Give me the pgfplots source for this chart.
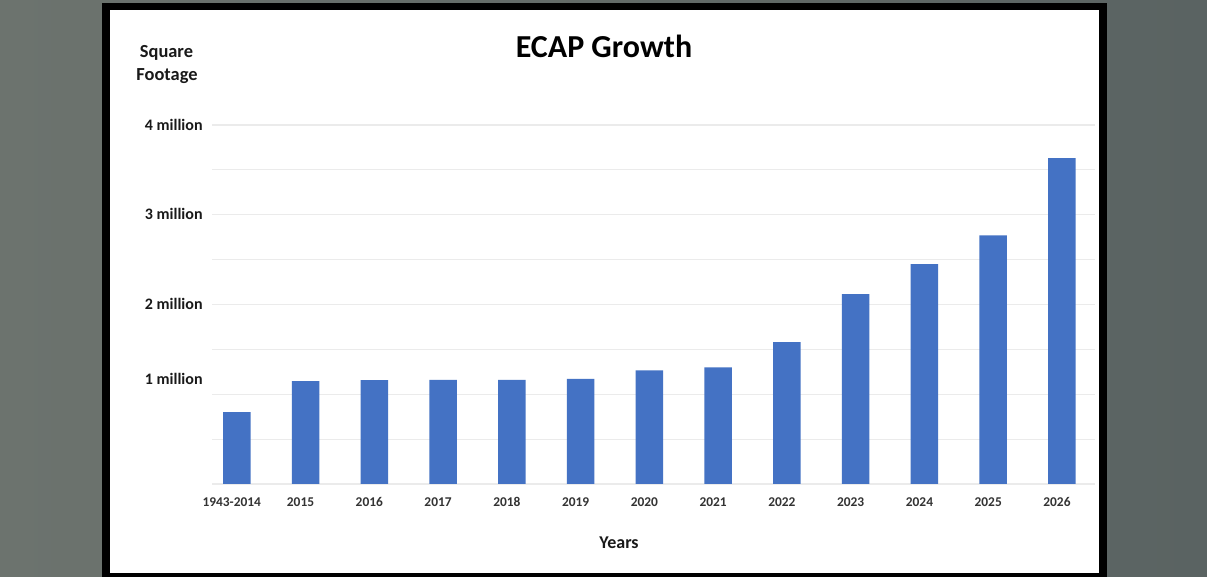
\documentclass[border=0pt]{standalone}
\usepackage{fontspec}
\setmainfont{Carlito}
\usepackage{pgfplots}
\pgfplotsset{compat=1.18}
\definecolor{bgl}{HTML}{6C736E}
\definecolor{bgr}{HTML}{5A6362}
\definecolor{barblue}{HTML}{4472C4}
\definecolor{gridgray}{HTML}{EBEBEB}
\definecolor{lbl}{HTML}{333333}
\begin{document}
\begin{tikzpicture}
\shade[left color=bgl, right color=bgr] (0,0) rectangle (603.5pt,-288.5pt);
\fill[black] (51.2pt,-1.5pt) rectangle (553.6pt,-288.5pt);
\fill[white] (55pt,-5pt) rectangle (549.6pt,-286.6pt);
\begin{axis}[
  at={(106pt,-242pt)}, anchor=south west,
  scale only axis, width=441.5pt, height=179.5pt,
  xmin=-0.36, xmax=12.48, ymin=0, ymax=4,
  axis line style={draw=none},
  major tick length=0pt,
  ytick={0,0.5,1,1.5,2,2.5,3,3.5,4},
  yticklabels={,,\raisebox{7.5pt}{1 million},,2 million,,3 million,,4 million},
  ymajorgrids, grid style={gridgray, line width=0.6pt},
  xtick={0,1,2,3,4,5,6,7,8,9,10,11,12},
  xticklabels={1943-2014,2015,2016,2017,2018,2019,2020,2021,2022,2023,2024,2025,2026},
  xticklabel style={font=\bfseries\fontsize{6.7}{8}\selectfont, text=lbl, anchor=center, yshift=-9pt, xshift=-2.5pt},
  yticklabel style={font=\bfseries\fontsize{8}{9.6}\selectfont, text=black!90, anchor=base east, inner sep=0pt, xshift=-4.5pt, yshift=-2.5pt},
  clip=false,
]
\addplot[ybar, bar width=13.75pt, fill=barblue, draw=none] coordinates {
(0,0.80) (1,1.145) (2,1.157) (3,1.16) (4,1.159) (5,1.17) (6,1.267) (7,1.30) (8,1.58) (9,2.115) (10,2.45) (11,2.77) (12,3.63)
};
\end{axis}
\node[font=\bfseries\fontsize{16}{19}\selectfont] at (302pt,-23pt) {ECAP Growth};
\node[font=\bfseries\fontsize{9.2}{11}\selectfont, text=black!90] at (83.25pt,-26.5pt) {Square};
\node[font=\bfseries\fontsize{9.2}{11}\selectfont, text=black!90] at (83.5pt,-38pt) {Footage};
\node[font=\bfseries\fontsize{9}{11}\selectfont, text=black!90] at (309.5pt,-271.5pt) {Years};
\end{tikzpicture}
\end{document}
